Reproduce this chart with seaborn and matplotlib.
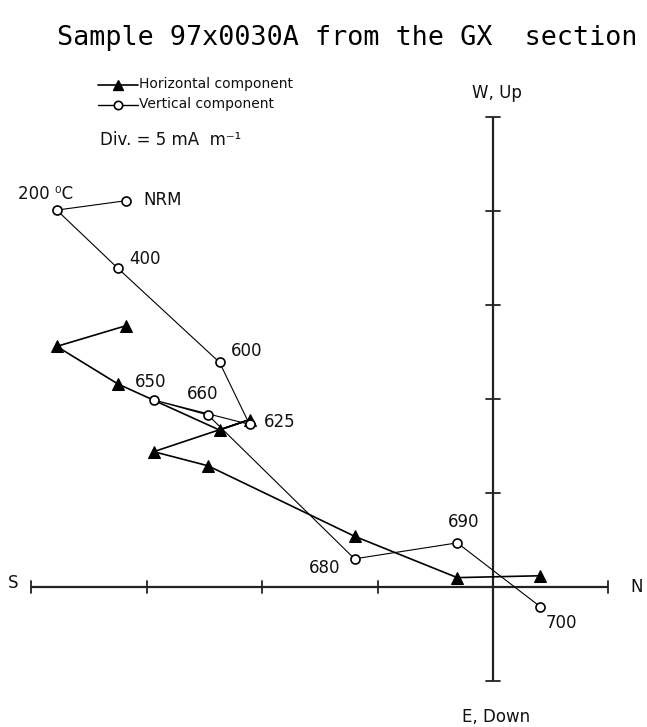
import matplotlib
matplotlib.use("Agg")
import matplotlib.pyplot as plt
import seaborn as sns
import pandas as pd

sns.set_theme(style="white")
plt.rcParams['font.family'] = ['DejaVu Sans']

# Demagnetisation steps (temperatures)
steps = ["NRM", "200", "400", "600", "625", "650", "660", "680", "690", "700"]
step_labels = ["NRM", "200 \u2070C", "400", "600", "625", "650", "660", "680", "690", "700"]
# North component (divisions, 1 div = 5 mA/m)
north = [-3.18, -3.78, -3.25, -2.37, -2.11, -2.94, -2.47, -1.20, -0.31, 0.41]
# Horizontal component (W)
west = [2.78, 2.56, 2.16, 1.67, 1.78, 1.44, 1.29, 0.54, 0.10, 0.12]
# Vertical component (Up)
up = [4.11, 4.01, 3.39, 2.39, 1.73, 1.99, 1.83, 0.30, 0.47, -0.21]

# label offsets in points (dx, dy)
label_offsets = [(12.2, 0.7), (-28, 11.5), (8, 6.5), (8, 8), (10, 2),
                 (-13.7, 13), (-15, 15), (-33, -6.5), (-7, 15), (3.6, -11.5)]

df = pd.DataFrame({"step": steps, "north": north, "west": west, "up": up})

fig = plt.figure(figsize=(6.47, 7.27), dpi=100)
ax = fig.add_axes([0, 0, 1, 1])
ax.set_xlim(-4.272, 1.334)
ax.set_ylim(-1.489, 6.245)
ax.axis("off")

axcol = "#222222"
txtcol = "#111111"
# axes
ax.plot([-4, 1], [0, 0], color=axcol, lw=1.6, solid_capstyle="butt")
ax.plot([0, 0], [-1, 5], color=axcol, lw=1.6, solid_capstyle="butt")
dy_tick = 0.065
dx_tick = 0.06
for t in [-4, -3, -2, -1, 1]:
    ax.plot([t, t], [-dy_tick, dy_tick], color=axcol, lw=1.3)
for t in [-1, 1, 2, 3, 4, 5]:
    ax.plot([-dx_tick, dx_tick], [t, t], color=axcol, lw=1.3)

# horizontal component (triangles)
sns.lineplot(data=df, x="north", y="west", sort=False, estimator=None, ax=ax,
             color="black", lw=1.2, marker="^", markersize=8,
             markeredgecolor="black", markerfacecolor="black")
# vertical component (circles)
sns.lineplot(data=df, x="north", y="up", sort=False, estimator=None, ax=ax,
             color="black", lw=0.8, marker="o", markersize=6.5,
             markeredgecolor="black", markerfacecolor="white", markeredgewidth=1.2)

for x, y, lab, (ox, oy) in zip(north, up, step_labels, label_offsets):
    ax.annotate(lab, (x, y), xytext=(ox, oy), textcoords="offset points",
                fontsize=12, ha="left", va="center", color=txtcol)

# compass labels
ax.text(-4.16, 0.04, "S", fontsize=12, ha="center", va="center", color=txtcol)
ax.text(1.24, 0.0, "N", fontsize=12, ha="center", va="center", color=txtcol)
ax.text(0.03, 5.26, "W, Up", fontsize=12, ha="center", va="center", color=txtcol)
ax.text(0.03, -1.38, "E, Down", fontsize=12, ha="center", va="center", color=txtcol)

# title
fig.text(0.537, 1 - 38 / 727, "Sample 97x0030A from the GX  section",
         fontsize=19.3, ha="center", va="center", family="DejaVu Sans Mono", color="black")

# legend
ax.plot([-3.42, -3.08], [5.34, 5.34], color="black", lw=1.2)
ax.plot([-3.25], [5.34], marker="^", color="black", markersize=7)
ax.plot([-3.42, -3.08], [5.13, 5.13], color="black", lw=1.0)
ax.plot([-3.25], [5.13], marker="o", markerfacecolor="white", markeredgecolor="black",
        markersize=6, markeredgewidth=1.2)
ax.text(-3.065, 5.35, "Horizontal component", fontsize=10, ha="left", va="center",
        color=txtcol)
ax.text(-3.065, 5.14, "Vertical component", fontsize=10, ha="left", va="center",
        color=txtcol)
ax.text(-3.405, 4.755, "Div. = 5 mA  m\u207b\u00b9", fontsize=12, ha="left", va="center",
        color=txtcol)

fig.savefig("out.png", dpi=100)
